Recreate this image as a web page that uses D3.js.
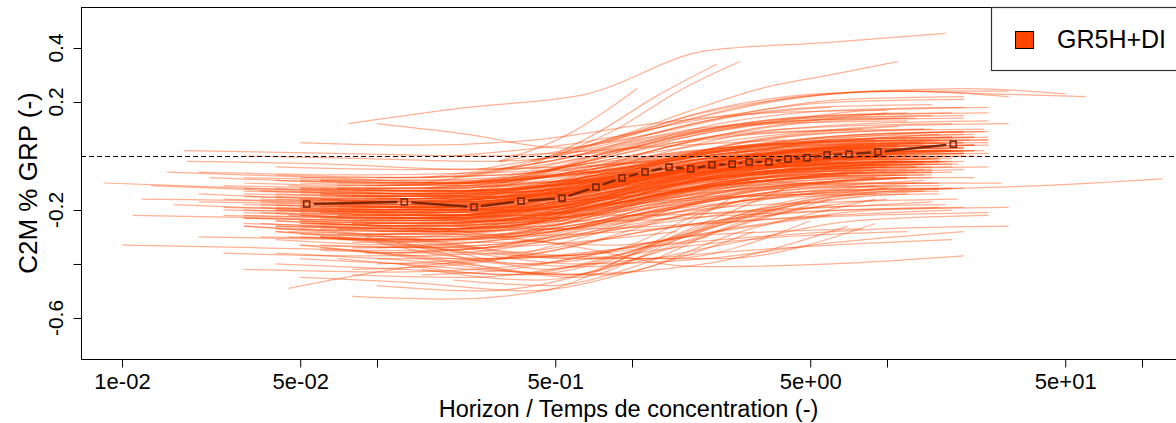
<!DOCTYPE html>
<html>
<head>
<meta charset="utf-8">
<script src="https://cdn.jsdelivr.net/npm/d3@7"></script>
<style>
  body { margin: 0; background: #fff; }
  text { font-family: "Liberation Sans", Arial, sans-serif; fill: #000; }
</style>
</head>
<body>
<svg id="chart" width="1176" height="423"></svg>
<script>
// one curve per catchment: [first horizon/Tc, last horizon/Tc, values sampled evenly in log between them]
var catchments = [
  [0.05, 16, [-0.20,-0.21,-0.17,-0.08,-0.03,-0.01]],
  [0.04, 12, [-0.15,-0.16,-0.12,-0.05,0.00,0.01]],
  [0.06, 18, [-0.25,-0.26,-0.20,-0.10,-0.05,-0.04]],
  [0.03, 10, [-0.12,-0.13,-0.11,-0.04,0.02,0.03]],
  [0.08, 20, [-0.22,-0.22,-0.14,-0.05,0.01,0.02]],
  [0.05, 14, [-0.30,-0.31,-0.26,-0.14,-0.08,-0.07]],
  [0.1, 15, [-0.18,-0.17,-0.09,-0.02,0.02,0.03]],
  [0.07, 9, [-0.10,-0.10,-0.05,0.03,0.06]],
  [0.04, 20, [-0.19,-0.20,-0.18,-0.07,-0.01,0.02]],
  [0.12, 25, [-0.28,-0.25,-0.12,-0.04,0.00,0.01]],
  [0.03, 8, [-0.08,-0.09,-0.07,-0.01,0.04]],
  [0.06, 16, [-0.35,-0.36,-0.30,-0.18,-0.12,-0.11]],
  [0.02, 6, [-0.14,-0.16,-0.15,-0.09,-0.04]],
  [0.09, 22, [-0.16,-0.15,-0.06,0.02,0.06,0.07]],
  [0.05, 12, [-0.22,-0.24,-0.21,-0.11,-0.06,-0.05]],
  [0.15, 20, [-0.24,-0.20,-0.08,-0.01,0.03]],
  [0.035, 10, [-0.17,-0.18,-0.16,-0.06,-0.02,-0.01]],
  [0.07, 18, [-0.27,-0.28,-0.20,-0.08,-0.02,-0.01]],
  [0.025, 7, [-0.20,-0.21,-0.22,-0.12,-0.07]],
  [0.11, 14, [-0.13,-0.12,-0.05,0.02,0.05]],
  [0.05, 25, [-0.10,-0.11,-0.09,-0.02,0.04,0.06]],
  [0.08, 12, [-0.32,-0.30,-0.22,-0.12,-0.08]],
  [0.04, 15, [-0.24,-0.25,-0.23,-0.13,-0.06,-0.05]],
  [0.06, 20, [-0.13,-0.14,-0.10,-0.02,0.03,0.05]],
  [0.2, 18, [-0.20,-0.12,-0.04,0.01,0.02]],
  [0.03, 9, [-0.26,-0.28,-0.27,-0.18,-0.11]],
  [0.1, 30, [-0.08,-0.07,0.00,0.07,0.11,0.12]],
  [0.05, 16, [-0.38,-0.40,-0.35,-0.22,-0.14,-0.12]],
  [0.07, 11, [-0.19,-0.19,-0.13,-0.05,-0.02]],
  [0.045, 13, [-0.11,-0.12,-0.08,0.00,0.04,0.05]],
  [0.13, 16, [-0.30,-0.26,-0.13,-0.05,-0.02]],
  [0.02, 5, [-0.06,-0.07,-0.06,-0.02,0.01]],
  [0.06, 22, [-0.21,-0.22,-0.17,-0.06,0.00,0.02]],
  [0.09, 10, [-0.15,-0.14,-0.08,-0.02,0.00]],
  [0.04, 18, [-0.28,-0.30,-0.28,-0.16,-0.08,-0.06]],
  [0.16, 25, [-0.12,-0.07,0.01,0.05,0.07]],
  [0.03, 12, [-0.18,-0.19,-0.17,-0.10,-0.03,-0.02]],
  [0.08, 15, [-0.42,-0.40,-0.30,-0.17,-0.11,-0.10]],
  [0.05, 9, [-0.16,-0.17,-0.13,-0.05,-0.03]],
  [0.1, 20, [-0.23,-0.21,-0.11,-0.03,0.01,0.01]],
  [0.06, 14, [-0.09,-0.09,-0.05,0.02,0.05]],
  [0.035, 16, [-0.21,-0.23,-0.22,-0.12,-0.05,-0.03]],
  [0.12, 12, [-0.36,-0.32,-0.20,-0.11,-0.08]],
  [0.07, 25, [-0.17,-0.17,-0.11,-0.02,0.03,0.04]],
  [0.05, 11, [-0.26,-0.27,-0.22,-0.12,-0.08]],
  [0.25, 20, [-0.16,-0.10,-0.03,0.02,0.03]],
  [0.04, 14, [-0.14,-0.15,-0.13,-0.06,-0.01,0.00]],
  [0.09, 18, [-0.29,-0.28,-0.18,-0.07,-0.03,-0.02]],
  [0.03, 7, [-0.23,-0.24,-0.23,-0.14,-0.09]],
  [0.06, 16, [-0.18,-0.19,-0.15,-0.07,-0.03,-0.02]],
  [0.0085, 2, [-0.10,-0.12,-0.14,-0.16,-0.12]],
  [0.012, 3, [-0.16,-0.17,-0.20,-0.18,-0.10]],
  [0.01, 1.5, [-0.33,-0.34,-0.35,-0.33,-0.28]],
  [0.015, 4, [-0.06,-0.08,-0.10,-0.08,-0.03]],
  [0.011, 2.5, [-0.22,-0.23,-0.25,-0.22,-0.15]],
  [0.02, 5, [-0.30,-0.31,-0.32,-0.25,-0.17]],
  [0.018, 3, [-0.02,-0.03,-0.05,-0.03,0.02]],
  [0.013, 6, [-0.11,-0.13,-0.15,-0.12,-0.05,-0.02]],
  [0.025, 4, [-0.36,-0.37,-0.36,-0.28,-0.20]],
  [0.016, 8, [-0.18,-0.20,-0.22,-0.16,-0.08,-0.05]],
  [0.022, 3.5, [-0.08,-0.10,-0.11,-0.06,-0.02]],
  [0.03, 6, [-0.42,-0.43,-0.40,-0.30,-0.22]],
  [0.05, 3, [-0.45,-0.47,-0.50,-0.42,-0.28]],
  [0.08, 2.5, [-0.52,-0.53,-0.50,-0.35,-0.15]],
  [0.1, 4, [-0.48,-0.50,-0.44,-0.28,-0.12]],
  [0.04, 12, [-0.40,-0.42,-0.44,-0.35,-0.30,-0.28]],
  [0.06, 20, [-0.30,-0.35,-0.40,-0.38,-0.32,-0.28]],
  [0.2, 6, [-0.46,-0.48,-0.40,-0.25,-0.18]],
  [0.045, 2, [-0.49,-0.42,-0.38,-0.36,-0.30]],
  [0.15, 8, [-0.44,-0.42,-0.36,-0.30,-0.28,-0.27]],
  [0.05, 20, [-0.25,-0.27,-0.33,-0.41,-0.40,-0.37]],
  [0.1, 30, [-0.38,-0.38,-0.34,-0.30,-0.27,-0.26]],
  [0.08, 18, [-0.44,-0.45,-0.40,-0.36,-0.33,-0.31]],
  [0.077, 17, [0.12,0.18,0.23,0.39,0.42,0.455]],
  [0.41, 2.15, [-0.03,0.08,0.22,0.34]],
  [0.5, 2.65, [0.0,0.10,0.24,0.35]],
  [0.3, 1.05, [-0.02,0.08,0.25]],
  [0.1, 6, [0.12,0.08,0.03,0.08,0.15,0.18]],
  [0.5, 11, [0.0,0.08,0.17,0.25,0.30,0.35]],
  [0.8, 60, [0.05,0.15,0.22,0.24,0.23,0.22]],
  [0.6, 50, [0.02,0.12,0.20,0.24,0.25,0.23]],
  [0.3, 30, [-0.02,0.05,0.16,0.22,0.24,0.22]],
  [0.2, 20, [0.0,0.05,0.14,0.20,0.21]],
  [0.4, 25, [-0.05,0.04,0.12,0.17,0.18]],
  [0.15, 15, [-0.08,-0.02,0.08,0.14,0.15]],
  [0.25, 12, [-0.05,0.02,0.10,0.13,0.14]],
  [0.5, 120, [-0.05,-0.08,-0.10,-0.12,-0.11,-0.085]],
  [0.0175, 4, [0.02,0.01,0.00,0.03,0.06]],
  [0.03, 8, [0.0,-0.01,-0.02,0.02,0.08,0.10]],
  [0.05, 10, [0.05,0.04,0.06,0.12,0.16,0.17]],
  [0.04, 6, [-0.04,-0.05,-0.04,0.02,0.06]],
  [0.06, 15, [-0.14,-0.16,-0.14,-0.06,-0.02,-0.01]],
  [0.08, 20, [-0.20,-0.19,-0.13,-0.04,0.00,0.01]],
  [0.05, 10, [-0.24,-0.25,-0.19,-0.10,-0.06]],
  [0.1, 18, [-0.10,-0.09,-0.03,0.03,0.06,0.07]],
  [0.04, 12, [-0.31,-0.33,-0.30,-0.19,-0.12,-0.11]],
  [0.07, 25, [-0.12,-0.13,-0.09,-0.01,0.05,0.06]],
  [0.03, 9, [-0.20,-0.21,-0.19,-0.11,-0.05]],
  [0.09, 14, [-0.26,-0.24,-0.15,-0.06,-0.03,-0.02]],
  [0.05, 18, [-0.17,-0.18,-0.15,-0.05,0.00,0.02]],
  [0.12, 10, [-0.20,-0.16,-0.07,-0.02,0.00]],
  [0.06, 13, [-0.33,-0.34,-0.27,-0.15,-0.10]],
  [0.04, 16, [-0.07,-0.08,-0.06,0.01,0.05,0.06]],
  [0.08, 12, [-0.15,-0.15,-0.09,-0.03,0.00]],
  [0.035, 20, [-0.25,-0.27,-0.26,-0.15,-0.07,-0.05]],
  [0.14, 22, [-0.18,-0.13,-0.05,0.01,0.04]],
  [0.05, 8, [-0.12,-0.13,-0.10,-0.03,0.00]],
  [0.07, 16, [-0.22,-0.23,-0.16,-0.07,-0.03,-0.02]],
  [0.025, 10, [-0.16,-0.17,-0.17,-0.10,-0.04,-0.03]],
  [0.1, 25, [-0.34,-0.31,-0.19,-0.09,-0.05,-0.04]],
  [0.06, 11, [-0.19,-0.20,-0.14,-0.06,-0.03]],
  [0.045, 15, [-0.28,-0.29,-0.25,-0.13,-0.07,-0.06]],
  [0.09, 20, [-0.11,-0.10,-0.04,0.03,0.07,0.08]],
  [0.03, 6, [-0.13,-0.14,-0.13,-0.06,-0.02]],
  [0.11, 16, [-0.24,-0.21,-0.11,-0.04,-0.01]],
  [0.05, 22, [-0.21,-0.22,-0.18,-0.08,-0.02,0.00]],
  [0.07, 9, [-0.27,-0.27,-0.20,-0.11,-0.08]],
  [0.04, 14, [-0.18,-0.19,-0.17,-0.08,-0.03,-0.02]],
  [0.18, 15, [-0.28,-0.21,-0.10,-0.04,-0.02]],
  [0.06, 18, [-0.09,-0.10,-0.06,0.01,0.06,0.07]],
  [0.05, 15, [-0.22,-0.23,-0.15,0.00,0.08,0.10]],
  [0.08, 20, [-0.15,-0.13,0.00,0.12,0.17,0.18]],
  [0.04, 10, [-0.26,-0.27,-0.22,-0.08,0.00]],
  [0.1, 25, [-0.20,-0.17,-0.03,0.08,0.12,0.13]],
  [0.06, 12, [-0.30,-0.31,-0.24,-0.14,-0.12]],
  [0.07, 18, [-0.12,-0.12,-0.02,0.10,0.15,0.16]],
  [0.03, 9, [-0.22,-0.23,-0.21,-0.15,-0.14]],
  [0.09, 22, [-0.25,-0.24,-0.16,-0.10,-0.08,-0.08]],
  [0.05, 14, [-0.16,-0.17,-0.10,0.04,0.09,0.10]],
  [0.12, 16, [-0.32,-0.29,-0.20,-0.15,-0.14]],
  [0.04, 20, [-0.20,-0.21,-0.19,-0.05,0.06,0.09]],
  [0.06, 11, [-0.14,-0.14,-0.06,0.06,0.11]],
  [0.1, 28, [-0.28,-0.26,-0.18,-0.12,-0.10,-0.10]],
  [0.03, 12, [-0.10,-0.11,-0.08,0.05,0.12,0.13]],
  [0.08, 15, [-0.24,-0.22,-0.12,0.01,0.05,0.06]],
  [0.05, 17, [-0.33,-0.34,-0.30,-0.22,-0.19,-0.18]],
  [0.2, 20, [-0.14,-0.05,0.07,0.13,0.14]],
  [0.06, 9, [-0.18,-0.18,-0.10,0.00,0.03]],
  [0.04, 16, [-0.24,-0.26,-0.24,-0.17,-0.14,-0.13]],
  [0.15, 25, [-0.10,-0.02,0.09,0.15,0.16]],
  [0.07, 13, [-0.20,-0.20,-0.12,-0.03,0.01]],
  [0.03, 8, [-0.15,-0.16,-0.14,-0.04,0.03]],
  [0.09, 19, [-0.36,-0.34,-0.25,-0.19,-0.17,-0.16]],
  [0.05, 13, [-0.08,-0.08,-0.02,0.08,0.13,0.14]],
  [0.11, 22, [-0.19,-0.16,-0.06,0.03,0.06,0.07]],
  [0.06, 16, [-0.26,-0.27,-0.21,-0.13,-0.10,-0.10]],
  [0.035, 11, [-0.13,-0.14,-0.12,-0.02,0.04]],
  [0.08, 24, [-0.17,-0.16,-0.08,0.04,0.09,0.10]],
  [0.045, 18, [-0.30,-0.31,-0.28,-0.18,-0.13,-0.12]],
  [0.13, 14, [-0.22,-0.17,-0.06,0.02,0.04]],
  [0.05, 10, [-0.19,-0.20,-0.14,-0.04,0.00]],
  [0.07, 20, [-0.11,-0.10,-0.02,0.09,0.14,0.15]],
  [0.04, 13, [-0.27,-0.28,-0.25,-0.14,-0.07,-0.06]],
  [0.1, 16, [-0.40,-0.37,-0.27,-0.21,-0.19]],
  [0.06, 22, [-0.16,-0.17,-0.12,0.00,0.06,0.08]],
  [0.025, 8, [-0.19,-0.20,-0.20,-0.12,-0.06]],
  [0.09, 12, [-0.23,-0.22,-0.12,-0.03,0.00]],
  [0.05, 20, [-0.13,-0.14,-0.09,0.01,0.07,0.09]],
  [0.3, 18, [-0.10,0.00,0.08,0.11,0.12]],
  [0.07, 14, [-0.29,-0.29,-0.22,-0.13,-0.09]],
  [0.04, 9, [-0.09,-0.10,-0.07,0.01,0.05]],
  [0.12, 20, [-0.26,-0.22,-0.10,-0.02,0.01]],
  [0.06, 17, [-0.21,-0.22,-0.16,-0.06,-0.01,0.00]],
  [0.08, 10, [-0.34,-0.33,-0.25,-0.16,-0.12]],
  [0.05, 25, [-0.17,-0.18,-0.14,-0.03,0.04,0.05]],
  [0.2, 12, [-0.24,-0.16,-0.06,0.00,0.01]],
  [0.03, 15, [-0.23,-0.24,-0.22,-0.12,-0.05,-0.04]],
  [0.1, 9, [-0.16,-0.14,-0.06,0.00]],
  [0.055, 19, [-0.25,-0.26,-0.20,-0.09,-0.04,-0.03]],
  [0.09, 16, [-0.12,-0.11,-0.04,0.04,0.08]],
  [0.03, 10, [-0.14,-0.15,-0.13,-0.05,0.01,0.02]],
  [0.05, 14, [-0.19,-0.20,-0.15,-0.05,0.01,0.02]],
  [0.07, 20, [-0.23,-0.23,-0.16,-0.06,-0.01,0.00]],
  [0.04, 9, [-0.21,-0.22,-0.18,-0.08,-0.04]],
  [0.09, 16, [-0.17,-0.16,-0.08,0.01,0.04,0.05]],
  [0.06, 12, [-0.27,-0.28,-0.22,-0.11,-0.07]],
  [0.025, 8, [-0.11,-0.12,-0.11,-0.05,0.00]],
  [0.1, 22, [-0.21,-0.19,-0.10,-0.01,0.03,0.04]],
  [0.05, 18, [-0.24,-0.25,-0.21,-0.10,-0.04,-0.03]],
  [0.08, 11, [-0.13,-0.13,-0.06,0.01,0.04]],
  [0.035, 14, [-0.19,-0.20,-0.19,-0.10,-0.04,-0.03]],
  [0.12, 18, [-0.16,-0.13,-0.04,0.03,0.06]],
  [0.06, 10, [-0.23,-0.24,-0.18,-0.09,-0.05]],
  [0.04, 20, [-0.16,-0.17,-0.15,-0.06,0.01,0.03]],
  [0.07, 15, [-0.31,-0.31,-0.24,-0.13,-0.08,-0.07]],
  [0.1, 12, [-0.11,-0.09,-0.02,0.04,0.06]],
  [0.05, 16, [-0.14,-0.15,-0.11,-0.03,0.02,0.03]],
  [0.03, 11, [-0.25,-0.26,-0.25,-0.15,-0.08,-0.07]],
  [0.08, 22, [-0.19,-0.18,-0.11,-0.02,0.03,0.04]],
  [0.06, 9, [-0.15,-0.16,-0.11,-0.03,0.00]],
  [0.045, 17, [-0.22,-0.23,-0.20,-0.09,-0.03,-0.02]],
  [0.11, 20, [-0.27,-0.24,-0.13,-0.05,-0.02]],
  [0.04, 11, [-0.12,-0.13,-0.10,-0.02,0.03]],
  [0.07, 13, [-0.20,-0.21,-0.15,-0.06,-0.02]],
  [0.02, 7, [-0.17,-0.18,-0.19,-0.12,-0.06]],
  [0.09, 25, [-0.14,-0.13,-0.06,0.03,0.08,0.09]],
  [0.05, 12, [-0.29,-0.30,-0.24,-0.13,-0.08]],
  [0.15, 16, [-0.20,-0.15,-0.06,0.00,0.02]],
  [0.06, 19, [-0.16,-0.17,-0.13,-0.04,0.02,0.03]],
  [0.035, 9, [-0.18,-0.19,-0.17,-0.08,-0.03]],
  [0.08, 14, [-0.25,-0.24,-0.16,-0.07,-0.03]],
  [0.05, 21, [-0.12,-0.13,-0.10,-0.01,0.05,0.06]],
  [0.13, 22, [-0.23,-0.19,-0.08,-0.01,0.02]],
  [0.04, 10, [-0.20,-0.21,-0.19,-0.09,-0.04]],
  [0.07, 17, [-0.15,-0.15,-0.09,0.00,0.04,0.05]],
  [0.03, 13, [-0.21,-0.22,-0.21,-0.12,-0.05,-0.04]],
  [0.1, 14, [-0.29,-0.26,-0.16,-0.08,-0.05]],
  [0.06, 24, [-0.20,-0.21,-0.16,-0.05,0.01,0.02]],
  [0.05, 9, [-0.09,-0.10,-0.06,0.01,0.04]],
  [0.09, 18, [-0.21,-0.20,-0.12,-0.03,0.01,0.02]],
  [0.04, 15, [-0.26,-0.27,-0.25,-0.14,-0.07,-0.06]],
  [0.16, 20, [-0.18,-0.12,-0.03,0.03,0.05]],
  [0.06, 11, [-0.12,-0.13,-0.08,0.00,0.03]],
  [0.025, 9, [-0.22,-0.23,-0.23,-0.14,-0.08]],
  [0.08, 17, [-0.17,-0.16,-0.09,-0.01,0.03,0.04]],
  [0.05, 13, [-0.25,-0.26,-0.21,-0.10,-0.05,-0.04]],
  [0.11, 24, [-0.14,-0.12,-0.04,0.04,0.08,0.09]],
  [0.035, 12, [-0.16,-0.17,-0.15,-0.07,-0.02,-0.01]],
  [0.07, 10, [-0.22,-0.22,-0.15,-0.07,-0.04]],
  [0.05, 19, [-0.18,-0.19,-0.15,-0.05,0.01,0.02]],
  [0.04, 8, [-0.28,-0.32,-0.40,-0.36,-0.22,-0.15]],
  [0.06, 10, [-0.30,-0.34,-0.42,-0.32,-0.18,-0.12]],
  [0.05, 6, [-0.33,-0.38,-0.44,-0.30,-0.16]],
  [0.08, 12, [-0.35,-0.40,-0.45,-0.30,-0.18,-0.14]],
  [0.03, 5, [-0.26,-0.30,-0.36,-0.38,-0.24]],
  [0.1, 15, [-0.32,-0.38,-0.36,-0.20,-0.10,-0.08]],
  [0.07, 9, [-0.38,-0.42,-0.44,-0.28,-0.16]],
  [0.05, 14, [-0.27,-0.31,-0.37,-0.30,-0.17,-0.13]],
  [0.12, 20, [-0.40,-0.44,-0.36,-0.22,-0.14,-0.12]],
  [0.04, 7, [-0.36,-0.39,-0.44,-0.40,-0.26]],
  [0.09, 18, [-0.30,-0.36,-0.38,-0.26,-0.15,-0.12]],
  [0.06, 25, [-0.34,-0.38,-0.41,-0.33,-0.24,-0.22]],
  [0.15, 10, [-0.42,-0.46,-0.36,-0.22,-0.16]],
  [0.035, 9, [-0.30,-0.32,-0.38,-0.38,-0.25]],
  [0.08, 30, [-0.25,-0.30,-0.33,-0.26,-0.20,-0.19]],
  [0.1, 20, [-0.22,-0.24,-0.24,-0.22,-0.20,-0.19]],
  [0.07, 15, [-0.18,-0.20,-0.22,-0.20,-0.17]],
  [0.3, 25, [-0.30,-0.28,-0.24,-0.22,-0.21]],
  [0.2, 18, [-0.26,-0.27,-0.25,-0.22,-0.20]],
  [0.2, 15, [-0.08,0.00,0.12,0.18,0.19]],
  [0.3, 20, [-0.05,0.05,0.15,0.21,0.22]],
  [0.15, 12, [-0.12,-0.06,0.06,0.14,0.16]],
  [0.4, 30, [-0.02,0.08,0.18,0.23,0.24,0.24]],
  [0.25, 10, [-0.09,-0.01,0.10,0.16]]
];

// median of all catchments
var medianX = [0.053, 0.128, 0.24, 0.367, 0.531, 0.722, 0.914, 1.125, 1.397, 1.70,
               2.06, 2.47, 2.88, 3.44, 4.09, 4.86, 5.82, 7.10, 9.22, 18.2];
var medianY = [-0.178, -0.170, -0.189, -0.167, -0.156, -0.115, -0.081, -0.059, -0.041, -0.048,
               -0.033, -0.030, -0.022, -0.022, -0.011, -0.007, 0.004, 0.007, 0.015, 0.044];

var xTicks = [0.01, 0.05, 0.1, 0.5, 1, 5, 10, 50, 100];
var xTickLabels = ["1e-02", "5e-02", "", "5e-01", "", "5e+00", "", "5e+01", ""];
var yTicks = [-0.6, -0.4, -0.2, 0.2, 0.4];
var yTickLabels = ["-0.6", "", "-0.2", "0.2", "0.4"];

var margin = {top: 7, right: 0, bottom: 64, left: 81};
var width = 1176, height = 423;

var svg = d3.select("#chart");

var x = d3.scaleLog()
   .domain([Math.pow(10, -2.1608), Math.pow(10, 2.1333)])
   .range([margin.left, width - margin.right]);

var y = d3.scaleLinear()
   .domain([-0.752, 0.552])
   .range([height - margin.bottom, margin.top]);

var plot = svg.append("g");

var line = d3.line()
   .x(d => x(d[0]))
   .y(d => y(d[1]))
   .curve(d3.curveMonotoneX);

// each catchment curve: values are spread evenly in log(horizon/Tc)
plot.selectAll("path.catch")
   .data(catchments)
   .enter()
   .append("path")
   .attr("class", "catch")
   .attr("d", c => {
      var l0 = Math.log10(c[0]), l1 = Math.log10(c[1]), n = c[2].length;
      return line(c[2].map((v, i) => [Math.pow(10, l0 + (l1 - l0) * i / (n - 1)), v]));
   })
   .style("fill", "none")
   .style("stroke", "#FF4500")
   .style("stroke-opacity", 0.42)
   .style("stroke-width", 1.25);

// zero line
var y0 = Math.round(y(0)) + 0.5;
plot.append("line")
   .attr("x1", margin.left)
   .attr("x2", width)
   .attr("y1", y0)
   .attr("y2", y0)
   .style("stroke", "#000")
   .style("stroke-width", 1)
   .style("stroke-dasharray", "5,3");

// median, drawn like R type = "b": segments stop short of the points
var medColour = "#7A2608";
var medPts = medianX.map((v, i) => [x(v), y(medianY[i])]);
var gap = 7;
medPts.slice(1).forEach((q, i) => {
   var p = medPts[i];
   var dx = q[0] - p[0], dy = q[1] - p[1];
   var d = Math.sqrt(dx * dx + dy * dy);
   if (d <= 2 * gap) return;
   plot.append("line")
      .attr("x1", p[0] + dx * gap / d)
      .attr("y1", p[1] + dy * gap / d)
      .attr("x2", q[0] - dx * gap / d)
      .attr("y2", q[1] - dy * gap / d)
      .style("stroke", medColour)
      .style("stroke-width", 2.4);
});

plot.selectAll("rect.med")
   .data(medPts)
   .enter()
   .append("rect")
   .attr("class", "med")
   .attr("x", d => d[0] - 3)
   .attr("y", d => d[1] - 3)
   .attr("width", 6)
   .attr("height", 6)
   .style("fill", "none")
   .style("stroke", medColour)
   .style("stroke-width", 1.6);

// frame
svg.append("rect")
   .attr("x", margin.left + 0.5)
   .attr("y", margin.top + 0.5)
   .attr("width", width - margin.left)
   .attr("height", height - margin.bottom - margin.top)
   .style("fill", "none")
   .style("stroke", "#000")
   .style("stroke-width", 1);

// x axis
var xAxis = d3.axisBottom(x)
   .tickValues(xTicks)
   .tickSize(8)
   .tickPadding(4)
   .tickFormat((d, i) => xTickLabels[i]);

var gx = svg.append("g")
   .attr("transform", `translate(0, ${height - margin.bottom + 0.5})`)
   .call(xAxis);
gx.select(".domain").remove();
gx.selectAll(".tick line").style("stroke", "#000");
gx.selectAll(".tick text")
   .attr("y", 29)
   .attr("dy", null)
   .style("font-size", "22px")
   .style("font-family", "'Liberation Sans', Arial, sans-serif")
   .style("fill", "#000");

// y axis: ticks from d3, labels written rotated like R
var yAxis = d3.axisLeft(y)
   .tickValues(yTicks)
   .tickSize(8)
   .tickFormat(() => "");

var gy = svg.append("g")
   .attr("transform", `translate(${margin.left + 0.5}, 0)`)
   .call(yAxis);
gy.select(".domain").remove();
gy.selectAll(".tick line").style("stroke", "#000");

svg.selectAll("text.ylab")
   .data(yTicks)
   .enter()
   .append("text")
   .attr("class", "ylab")
   .attr("transform", d => `translate(63, ${y(d)}) rotate(-90)`)
   .style("text-anchor", "middle")
   .style("font-size", "21px")
   .text((d, i) => yTickLabels[i]);

// axis titles
svg.append("text")
   .attr("x", (margin.left + width) / 2)
   .attr("y", 417)
   .style("text-anchor", "middle")
   .style("font-size", "23.5px")
   .text("Horizon / Temps de concentration (-)");

svg.append("text")
   .attr("transform", `translate(37, ${(margin.top + height - margin.bottom) / 2}) rotate(-90)`)
   .style("text-anchor", "middle")
   .style("font-size", "26px")
   .text("C2M % GRP (-)");

// legend
var legend = svg.append("g");
legend.append("rect")
   .attr("x", 991.5)
   .attr("y", 7.5)
   .attr("width", 200)
   .attr("height", 63)
   .style("fill", "#fff")
   .style("stroke", "#333")
   .style("stroke-width", 1.2);
legend.append("rect")
   .attr("x", 1015.5)
   .attr("y", 31.5)
   .attr("width", 18)
   .attr("height", 17)
   .style("fill", "#FF4500")
   .style("stroke", "#000")
   .style("stroke-width", 1);
legend.append("text")
   .attr("x", 1057)
   .attr("y", 48)
   .style("font-size", "25px")
   .text("GR5H+DI");
</script>
</body>
</html>
